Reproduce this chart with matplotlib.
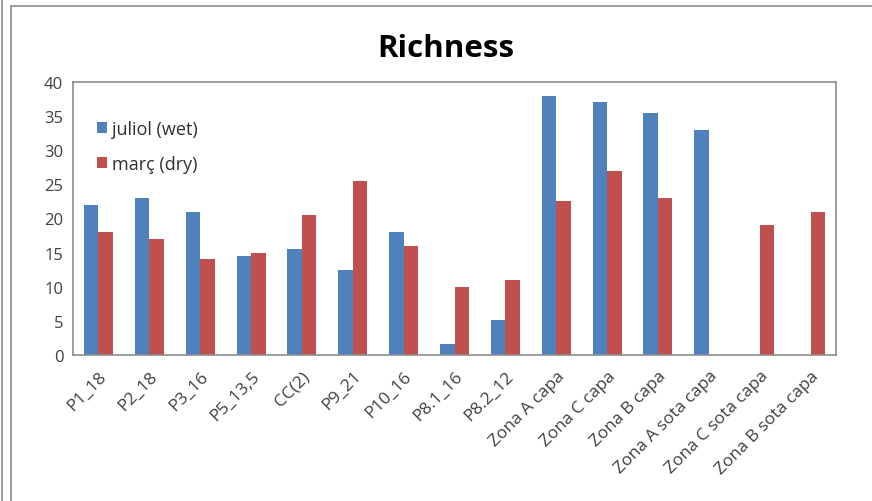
import matplotlib
matplotlib.use('Agg')
import matplotlib.pyplot as plt
import numpy as np
from matplotlib.patches import Rectangle
from matplotlib.lines import Line2D

# 数据
categories = ['P1_18', 'P2_18', 'P3_16', 'P5_13,5', 'CC(2)', 'P9_21', 'P10_16',
              'P8.1_16', 'P8.2_12', 'Zona A capa', 'Zona C capa', 'Zona B capa',
              'Zona A sota capa', 'Zona C sota capa', 'Zona B sota capa']
juliol_wet = [22, 23, 21, 14.5, 15.5, 12.5, 18, 1.6, 5.2, 38, 37, 35.5, 33, 0, 0]
marc_dry = [18, 17, 14, 15, 20.5, 25.5, 16, 10, 11, 22.5, 27, 23, 0, 19, 21]
yticks = [0, 5, 10, 15, 20, 25, 30, 35, 40]

plt.rcParams['font.family'] = ['Open Sans', 'DejaVu Sans']

fig = plt.figure(figsize=(8.72, 5.02), dpi=100)
ax = fig.add_axes([73/872, 1 - 356/502, (836 - 73)/872, (356 - 83)/502])

# 外框
fig.patches.append(Rectangle((11/872, -0.1), 1, (495 + 50)/502,
                             transform=fig.transFigure, fill=False,
                             edgecolor='#8c8c8c', linewidth=1.2))
fig.lines.append(Line2D([2/872, 2/872], [0, 1], transform=fig.transFigure,
                        color='#8c8c8c', linewidth=1.2))

x = np.arange(len(categories))
width = 0.285
ax.bar(x - width/2, juliol_wet, width, color='#4F81BD', label='juliol (wet)')
ax.bar(x + width/2, marc_dry, width, color='#C0504D', label='març (dry)')

ax.set_xlim(-0.5, len(categories) - 0.5)
ax.set_ylim(0, 40)
ax.set_yticks(yticks)
ax.set_yticklabels([str(v) for v in yticks], fontsize=12, color='#404040')
ax.set_xticks(x)
ax.set_xticklabels(categories, rotation=45, ha='right', rotation_mode='anchor',
                   fontsize=12.5, color='#404040')
ax.tick_params(axis='y', length=0, pad=7)
ax.tick_params(axis='x', length=0, pad=9)
for s in ax.spines.values():
    s.set_color('#8c8c8c')
    s.set_linewidth(1.2)

fig.text(0.511, 0.902, 'Richness', ha='center', va='center',
         fontsize=22.5, fontweight='bold', color='black')

ax.legend(loc='upper left', bbox_to_anchor=(0.01, 0.92), frameon=False,
          fontsize=13, handlelength=0.55, handleheight=0.55, handletextpad=0.3,
          labelspacing=0.95, labelcolor='#303030')

plt.savefig('out.png', dpi=100)
plt.close()
